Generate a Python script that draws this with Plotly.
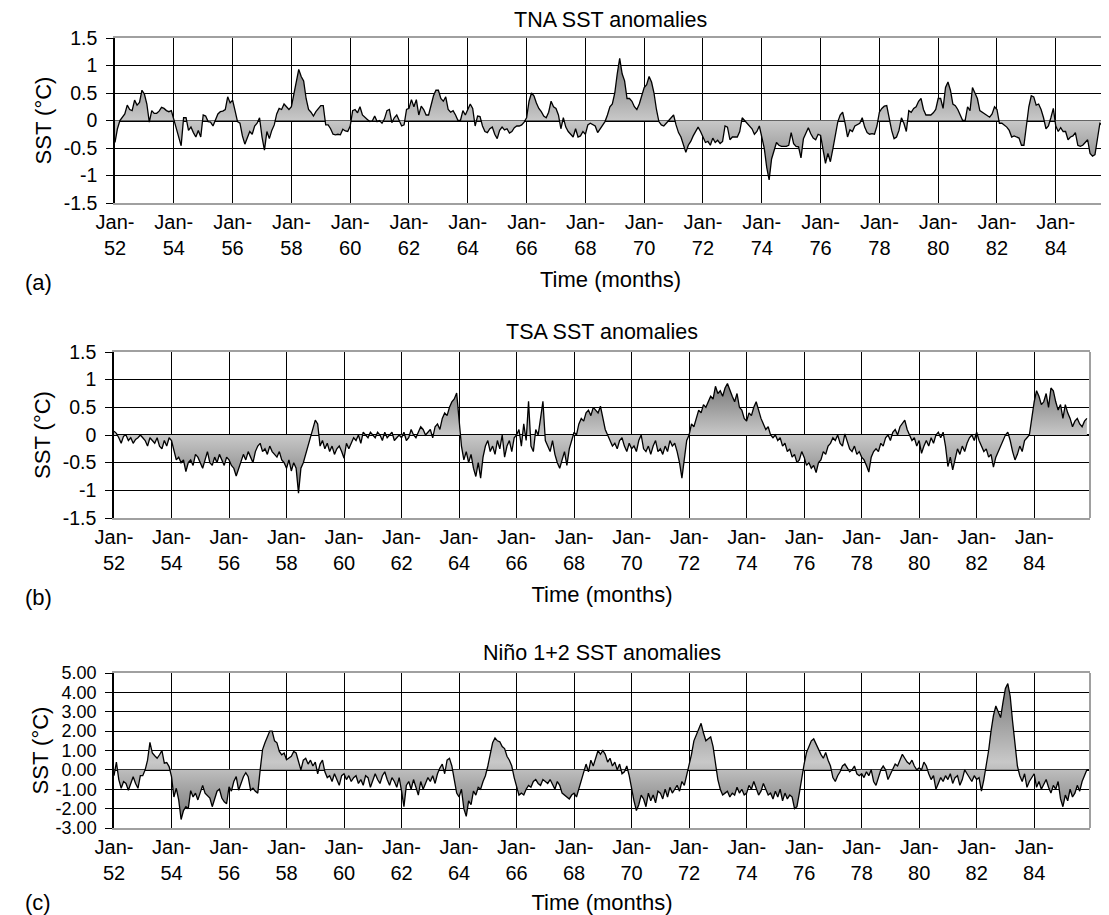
import plotly.graph_objects as go

# ---------------- data (monthly, month 0 = Jan 1952) ----------------
tna = [
-0.4,-0.15,0.0,0.05,0.12,0.28,0.2,0.18,0.37,0.28,
0.33,0.55,0.48,0.3,-0.03,0.18,0.13,0.13,0.17,0.24,
0.22,0.18,0.16,0.18,0.02,-0.1,-0.25,-0.46,0.05,0.05,
-0.18,-0.12,-0.22,-0.3,-0.18,-0.3,0.1,0.08,-0.02,-0.03,
-0.1,0.02,0.12,0.16,0.17,0.2,0.43,0.32,0.37,0.18,
-0.02,-0.05,-0.28,-0.43,-0.3,-0.2,-0.25,-0.1,-0.05,0.05,
-0.3,-0.54,-0.2,-0.33,-0.18,-0.08,0.12,0.22,0.2,0.3,
0.25,0.2,0.25,0.48,0.75,0.93,0.8,0.72,0.4,0.2,
0.15,0.08,0.16,0.22,0.27,0.27,-0.08,-0.08,-0.15,-0.25,
-0.26,-0.25,-0.26,-0.16,-0.19,-0.2,-0.1,0.18,0.2,0.14,
0.25,0.1,0.05,0.02,-0.02,-0.01,0.08,-0.02,0.0,-0.05,
0.03,0.18,0.2,-0.04,0.05,0.1,0.0,-0.1,-0.08,0.2,
0.22,0.38,0.25,0.38,0.1,0.26,0.2,0.1,0.1,0.3,
0.45,0.55,0.55,0.4,0.35,0.43,0.2,0.15,0.18,0.1,
0.0,0.0,0.18,0.1,0.2,0.3,0.22,-0.1,0.08,0.07,
-0.1,-0.2,-0.22,-0.15,-0.12,-0.25,-0.33,-0.18,-0.12,-0.17,
-0.15,-0.23,-0.2,-0.13,-0.1,-0.1,-0.08,-0.03,0.05,0.35,
0.5,0.45,0.32,0.22,0.16,0.08,0.05,0.15,0.35,0.25,
0.22,0.1,-0.15,0.05,-0.12,-0.2,-0.25,-0.3,-0.15,-0.3,
-0.28,-0.2,-0.25,-0.08,-0.05,-0.08,-0.1,-0.22,-0.15,-0.1,
-0.02,0.1,0.25,0.3,0.5,0.85,1.13,0.85,0.72,0.4,
0.4,0.35,0.25,0.2,0.3,0.45,0.6,0.65,0.8,0.7,
0.5,0.2,-0.02,-0.08,-0.1,-0.05,0.0,0.05,0.1,-0.08,
-0.22,-0.3,-0.45,-0.58,-0.45,-0.38,-0.28,-0.2,-0.12,-0.2,
-0.3,-0.4,-0.38,-0.45,-0.32,-0.4,-0.36,-0.42,-0.38,-0.1,
-0.12,-0.35,-0.3,-0.3,-0.3,-0.2,0.05,0.0,-0.05,-0.1,
-0.15,-0.25,-0.2,-0.1,-0.3,-0.5,-0.85,-1.08,-0.7,-0.55,
-0.4,-0.45,-0.47,-0.47,-0.47,-0.45,-0.22,-0.42,-0.47,-0.48,
-0.68,-0.33,-0.22,-0.13,-0.24,-0.32,-0.35,-0.25,-0.27,-0.55,
-0.78,-0.6,-0.75,-0.52,-0.28,-0.03,0.1,0.15,-0.05,-0.3,
-0.17,-0.2,-0.1,-0.08,-0.05,0.05,-0.12,-0.22,-0.25,-0.24,
-0.25,-0.1,0.15,0.22,0.26,0.27,0.02,-0.18,-0.33,-0.3,
-0.18,0.05,-0.05,-0.2,0.18,0.15,0.22,0.25,0.35,0.4,
0.2,0.1,0.1,0.1,0.14,0.2,0.4,0.4,0.22,0.6,
0.7,0.55,0.3,0.27,0.2,0.1,0.0,0.0,0.25,0.18,
0.6,0.5,0.4,0.18,0.15,0.13,0.1,0.06,0.12,0.25,
0.2,-0.05,-0.05,-0.08,-0.12,-0.18,-0.3,-0.28,-0.3,-0.32,
-0.45,-0.45,-0.1,0.25,0.45,0.43,0.28,0.3,0.2,0.05,
-0.15,-0.1,0.05,0.22,-0.1,-0.2,-0.13,-0.2,-0.2,-0.35,
-0.3,-0.28,-0.22,-0.45,-0.47,-0.45,-0.4,-0.35,-0.6,-0.65,
-0.62,-0.3,-0.05,-0.08,-0.1,
]

tsa = [
0.07,0.03,-0.05,-0.15,-0.02,0.0,-0.1,-0.05,-0.15,-0.08,-0.05,0.0,
-0.05,-0.1,-0.2,-0.05,-0.1,-0.15,-0.05,-0.2,-0.25,-0.1,-0.2,-0.05,
-0.1,-0.3,-0.45,-0.4,-0.5,-0.45,-0.66,-0.5,-0.45,-0.55,-0.35,-0.4,
-0.5,-0.6,-0.45,-0.3,-0.5,-0.55,-0.4,-0.5,-0.35,-0.45,-0.55,-0.4,
-0.45,-0.55,-0.6,-0.74,-0.6,-0.45,-0.35,-0.45,-0.3,-0.4,-0.5,-0.3,
-0.2,-0.15,-0.3,-0.25,-0.35,-0.2,-0.3,-0.35,-0.4,-0.3,-0.45,-0.5,
-0.6,-0.45,-0.65,-0.5,-0.6,-1.05,-0.6,-0.5,-0.35,-0.2,-0.05,0.1,
0.27,0.2,-0.2,-0.1,-0.25,-0.15,-0.3,-0.2,-0.35,-0.25,-0.2,-0.3,
-0.42,-0.15,-0.25,-0.15,-0.05,-0.1,0.0,-0.15,0.05,0.0,-0.05,0.05,
0.0,-0.05,0.05,0.0,-0.1,0.05,-0.05,0.0,0.05,-0.1,-0.05,0.0,
-0.05,0.05,-0.1,-0.05,0.1,0.0,-0.05,0.05,0.15,0.1,0.0,0.05,
0.1,-0.05,0.15,0.2,0.1,0.3,0.4,0.35,0.5,0.6,0.65,0.76,
0.3,-0.2,-0.45,-0.3,-0.5,-0.35,-0.6,-0.75,-0.5,-0.78,-0.4,-0.2,
-0.1,-0.3,-0.2,-0.35,-0.1,-0.25,0.0,-0.4,-0.2,-0.1,-0.3,-0.05,
0.0,0.1,-0.2,0.2,-0.1,0.61,-0.2,-0.3,0.1,0.0,0.3,0.61,
-0.1,-0.2,-0.3,-0.1,-0.35,-0.5,-0.6,-0.45,-0.3,-0.55,-0.25,-0.1,
0.05,0.0,0.2,0.3,0.25,0.4,0.45,0.35,0.5,0.45,0.4,0.52,
0.3,0.1,0.0,-0.1,-0.2,-0.15,-0.25,-0.1,-0.05,-0.2,-0.3,-0.15,
-0.25,-0.2,-0.3,-0.1,0.0,-0.25,-0.3,-0.2,-0.35,-0.2,-0.1,-0.3,
-0.25,-0.35,-0.2,-0.3,-0.1,-0.2,-0.15,-0.3,-0.5,-0.78,-0.4,-0.1,
0.0,0.2,0.15,0.3,0.45,0.4,0.55,0.5,0.6,0.7,0.65,0.88,
0.75,0.8,0.7,0.85,0.93,0.8,0.7,0.6,0.75,0.5,0.45,0.3,
0.25,0.4,0.35,0.5,0.6,0.45,0.3,0.2,0.1,0.15,0.0,-0.05,
0.0,-0.1,-0.05,-0.2,-0.15,-0.3,-0.25,-0.4,-0.35,-0.5,-0.45,-0.3,
-0.4,-0.55,-0.5,-0.6,-0.55,-0.68,-0.5,-0.45,-0.3,-0.35,-0.2,-0.15,
-0.05,-0.1,0.0,-0.15,-0.2,0.02,-0.1,-0.25,-0.3,-0.2,-0.35,-0.3,
-0.4,-0.45,-0.55,-0.67,-0.4,-0.3,-0.25,-0.3,-0.15,-0.2,-0.05,0.0,
-0.1,0.05,0.1,0.0,0.15,0.2,0.27,0.1,0.0,-0.1,-0.05,-0.2,
-0.1,-0.33,-0.2,-0.1,-0.2,-0.05,-0.15,0.0,0.05,-0.05,0.05,-0.2,
-0.57,-0.4,-0.63,-0.45,-0.25,-0.35,-0.2,-0.3,-0.15,-0.05,0.0,-0.1,
0.05,-0.1,-0.2,-0.3,-0.25,-0.4,-0.35,-0.58,-0.4,-0.3,-0.2,-0.1,
0.0,0.05,-0.1,-0.3,-0.45,-0.35,-0.2,-0.3,-0.1,-0.05,0.0,0.3,
0.6,0.8,0.7,0.55,0.6,0.75,0.5,0.85,0.8,0.6,0.45,0.55,
0.3,0.55,0.4,0.3,0.15,0.25,0.3,0.2,0.15,0.25,0.3,
]

nino = [
-0.3,0.4,-0.5,-0.95,-0.6,-0.7,-1.05,-0.7,-0.35,-0.7,-0.95,-0.3,
-0.3,0.0,0.5,1.42,0.87,0.73,0.6,0.78,1.0,0.35,0.38,0.17,
-0.35,-1.4,-0.95,-1.55,-2.56,-2.1,-1.9,-2.0,-1.07,-1.4,-1.2,-1.55,
-1.2,-0.8,-1.2,-1.3,-1.45,-1.9,-1.45,-1.1,-1.0,-1.45,-1.65,-1.75,
-0.87,-1.1,-0.6,-0.35,-1.05,-0.7,-0.35,-0.15,-0.35,-1.05,-0.95,-1.1,
-1.2,0.0,1.05,1.4,1.7,2.0,2.0,1.5,1.4,0.95,0.78,0.87,
0.52,0.6,0.7,0.95,0.87,0.43,0.0,0.5,0.6,0.3,0.5,0.2,
0.4,-0.2,0.3,0.5,-0.1,-0.4,-0.3,-0.6,-0.2,-0.5,-0.8,-0.3,
-0.2,-0.5,-0.3,-0.6,-0.4,-0.3,-0.7,-0.5,-0.8,-0.3,-0.4,-0.9,
-0.5,-0.2,-0.5,-0.7,-0.3,-0.1,-0.5,-0.8,-0.4,-0.6,-0.9,-0.4,
-1.1,-1.9,-0.8,-0.6,-1.0,-0.5,-0.9,-1.3,-0.6,-1.0,-0.7,-0.4,
-0.6,-0.3,-0.7,-0.2,0.1,0.3,-0.2,0.5,0.6,0.2,-0.5,-1.2,
-1.4,-1.0,-2.0,-2.4,-1.6,-1.8,-1.1,-1.3,-0.9,-1.0,-0.6,-0.3,
0.2,0.8,1.4,1.65,1.5,1.45,1.2,1.1,0.7,0.5,0.2,-0.4,
-0.9,-1.3,-1.2,-1.3,-1.0,-0.8,-0.9,-0.6,-0.5,-0.7,-0.8,-0.5,
-0.6,-0.7,-0.5,-0.8,-1.0,-0.6,-0.8,-1.2,-1.3,-1.4,-1.5,-1.3,
-1.2,-1.4,-1.0,-0.6,-0.2,0.3,-0.1,0.5,0.2,0.6,1.0,0.8,
1.0,0.8,0.4,0.6,0.2,0.4,0.0,0.3,-0.2,-0.1,0.2,-0.3,
-1.0,-1.6,-2.1,-1.8,-1.3,-1.5,-1.9,-1.2,-1.6,-1.3,-1.7,-1.1,
-1.2,-1.5,-1.0,-1.4,-0.9,-1.2,-1.0,-0.8,-1.1,-0.6,-0.8,-0.3,
0.2,0.8,1.5,1.8,2.2,2.4,1.9,1.5,1.6,1.7,1.2,0.3,
-0.5,-1.0,-1.3,-1.2,-1.1,-1.4,-1.2,-1.3,-0.9,-1.2,-1.0,-1.3,
-1.2,-0.8,-1.0,-0.6,-0.9,-1.3,-1.1,-0.7,-1.0,-1.3,-1.2,-1.5,
-1.1,-1.4,-1.0,-1.6,-1.2,-1.5,-1.3,-1.4,-2.0,-1.9,-1.2,-0.4,
0.3,0.9,1.2,1.5,1.6,1.3,1.0,0.8,0.6,0.9,0.5,0.2,
-0.4,-0.6,-0.3,-0.1,0.2,0.3,0.1,-0.1,0.0,0.2,-0.2,-0.3,
-0.2,-0.4,-0.1,-0.3,0.0,-0.6,-0.8,-0.4,0.0,0.2,0.0,-0.5,
-0.2,0.1,0.3,0.2,0.5,0.8,0.6,0.4,0.3,0.5,0.2,0.0,
0.1,0.0,0.4,0.2,-0.2,-0.5,-0.3,-1.0,-0.7,-0.4,-0.6,-0.3,
-0.5,-0.2,-0.7,-0.4,-0.3,-0.8,-0.5,0.0,-0.2,-0.4,-0.6,-0.3,
-0.5,-0.4,-1.1,-0.5,0.2,1.0,2.0,2.8,3.3,3.0,2.7,3.5,
4.2,4.45,3.8,2.5,1.2,0.2,-0.3,-0.6,-0.2,-0.9,-0.6,-0.4,
-0.2,-0.9,-0.6,-1.0,-0.7,-0.5,-0.9,-1.2,-0.8,-1.0,-0.6,-1.5,
-1.9,-1.3,-1.6,-1.0,-1.4,-1.2,-0.8,-1.1,-0.6,-0.3,0.0,
]

titles = ["TNA SST anomalies", "TSA SST anomalies", "Niño 1+2 SST anomalies"]
panel_labels = ["(a)", "(b)", "(c)"]
tick_years = ["52","54","56","58","60","62","64","66","68","70","72","74","76","78","80","82","84"]
tick_months = [24 * i for i in range(len(tick_years))]
ytick_ab = [-1.5, -1, -0.5, 0, 0.5, 1, 1.5]
ytick_ab_text = ["-1.5", "-1", "-0.5", "0", "0.5", "1", "1.5"]
ytick_c = [-3, -2, -1, 0, 1, 2, 3, 4, 5]
ytick_c_text = ["-3.00", "-2.00", "-1.00", "0.00", "1.00", "2.00", "3.00", "4.00", "5.00"]

# the page body has an 8 px margin, so the figure is placed at (8, 8)
OFF = 8
W, H = 1109 - OFF, 915 - OFF
FONT = "Liberation Sans, Arial, sans-serif"

def px_x(p):
    return (p - OFF) / W

def px_y(p):
    return 1 - (p - OFF) / H

panels = [
    dict(y=tna, xd=(115, 1106), yd=(38, 203), xr=[0, 404.5], yr=[-1.5, 1.5],
         tv=ytick_ab, tt=ytick_ab_text, title_y=20.5, lab_y=282, mid=0.0,
         tfs=19.5, ytstand=6, xtstand=14),
    dict(y=tsa, xd=(114, 1090), yd=(352, 518), xr=[0, 407.3], yr=[-1.5, 1.5],
         tv=ytick_ab, tt=ytick_ab_text, title_y=332, lab_y=597, mid=0.0,
         tfs=19.5, ytstand=6, xtstand=14),
    dict(y=nino, xd=(114, 1090), yd=(673, 828), xr=[0, 407.3], yr=[-3, 5],
         tv=ytick_c, tt=ytick_c_text, title_y=653, lab_y=902, mid=0.4,
         tfs=18, ytstand=1, xtstand=12),
]

fig = go.Figure()
annotations = []
shapes = []
for i, p in enumerate(panels):
    n = "" if i == 0 else str(i + 1)
    lo, hi = min(p["y"]), max(p["y"])
    c = (p["mid"] - lo) / (hi - lo)
    fig.add_trace(go.Scatter(
        x=list(range(len(p["y"]))), y=p["y"], mode="lines", fill="tozeroy",
        line=dict(color="black", width=1.3),
        fillgradient=dict(type="vertical", start=lo, stop=hi,
                          colorscale=[[0, "#787878"], [c, "#c8c8c8"], [1, "#787878"]]),
        xaxis="x" + n, yaxis="y" + n, showlegend=False, hoverinfo="skip"))
    fig.layout["xaxis" + n] = dict(
        domain=[px_x(p["xd"][0]), px_x(p["xd"][1])], range=p["xr"], anchor="y" + n,
        automargin=False,
        tickmode="array", tickvals=tick_months,
        ticktext=["Jan-<br>" + t for t in tick_years],
        showgrid=True, gridcolor="black", gridwidth=1.2,
        showline=True, linecolor="#a0a0a0", linewidth=2, mirror=True,
        ticks="", zeroline=False,
        tickfont=dict(family=FONT, size=20, color="black"),
        title=dict(text="Time (months)", font=dict(family=FONT, size=22, color="black"),
                   standoff=p["xtstand"]))
    fig.layout["yaxis" + n] = dict(
        domain=[px_y(p["yd"][1]), px_y(p["yd"][0])], range=p["yr"], anchor="x" + n,
        automargin=False,
        tickmode="array", tickvals=p["tv"], ticktext=p["tt"],
        showgrid=True, gridcolor="black", gridwidth=1.2,
        showline=True, linecolor="black", linewidth=1.5,
        ticks="outside", ticklen=7, tickcolor="black", ticklabelstandoff=5,
        zeroline=True, zerolinecolor="black", zerolinewidth=1.8,
        tickfont=dict(family=FONT, size=p["tfs"], color="black"),
        title=dict(text="SST (°C)", font=dict(family=FONT, size=22, color="black"),
                   standoff=p["ytstand"]))
    shapes.append(dict(type="line", xref="x" + n + " domain", yref="y" + n + " domain",
                       x0=1, x1=1, y0=0, y1=1, line=dict(color="#a0a0a0", width=2)))
    annotations.append(dict(text=titles[i], xref="paper", yref="paper",
                            x=px_x((p["xd"][0] + p["xd"][1]) / 2), y=px_y(p["title_y"]),
                            xanchor="center", yanchor="middle", showarrow=False,
                            font=dict(family=FONT, size=21.5, color="black")))
    annotations.append(dict(text=panel_labels[i], xref="paper", yref="paper",
                            x=px_x(23), y=px_y(p["lab_y"]), xanchor="left", yanchor="middle",
                            showarrow=False, font=dict(family=FONT, size=22, color="black")))

fig.update_layout(width=W, height=H, margin=dict(l=0, r=0, t=0, b=0),
                  paper_bgcolor="white", plot_bgcolor="white",
                  annotations=annotations, shapes=shapes)
fig.write_html("out.html")
